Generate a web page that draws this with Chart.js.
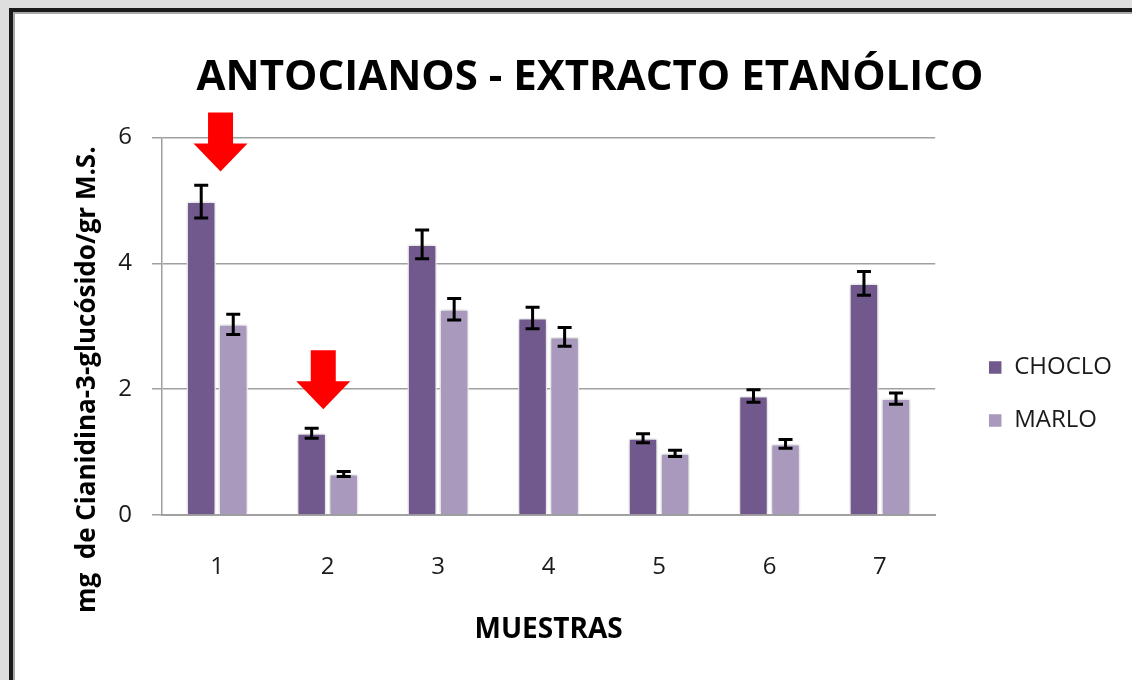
<!DOCTYPE html>
<html>
<head>
<meta charset="utf-8">
<script src="https://cdn.jsdelivr.net/npm/chart.js@4"></script>
<style>
  html, body { margin: 0; padding: 0; }
  body { width: 1132px; height: 680px; overflow: hidden; background: #dedede; position: relative; }
  .frame {
    position: absolute; left: 9px; top: 8px; width: 1200px; height: 800px;
    border: 4px solid #1a1a1a; box-shadow: inset 0 0 0 2px #a8a8a8; background: #fff;
  }
  .box { position: absolute; left: 58px; top: 14px; width: 1064px; height: 666px; }
</style>
</head>
<body>
<div class="frame"></div>
<div class="box"><canvas id="antocianos"></canvas></div>
<script>
const muestras = ['1', '2', '3', '4', '5', '6', '7'];
const choclo = [4.98, 1.30, 4.30, 3.13, 1.22, 1.89, 3.68];
const chocloErr = [0.26, 0.08, 0.23, 0.17, 0.07, 0.10, 0.19];
const marlo = [3.03, 0.65, 3.27, 2.83, 0.98, 1.13, 1.85];
const marloErr = [0.16, 0.04, 0.17, 0.15, 0.05, 0.07, 0.09];
const yTicks = [0, 2, 4, 6];
// flechas rojas: posición en categoría y valor de la punta
const flechaCat = [0.03, 0.96];
const flechaPunta = [5.46, 1.68];

const tituloY = 'mg  de Cianidina-3-glucósido/gr M.S.';
const fuente = "'Open Sans', sans-serif";

const sombraBarras = {
    id: 'sombraBarras',
    beforeDatasetsDraw(chart) {
        chart.ctx.save();
        chart.ctx.shadowColor = 'rgba(0,0,0,0.22)';
        chart.ctx.shadowBlur = 6;
    },
    afterDatasetsDraw(chart) {
        chart.ctx.restore();
    }
};

const barrasError = {
    id: 'barrasError',
    afterDatasetsDraw(chart) {
        const ctx = chart.ctx;
        const y = chart.scales.y;
        const errores = [chocloErr, marloErr];
        ctx.save();
        ctx.strokeStyle = '#000';
        ctx.lineWidth = 3;
        chart.data.datasets.forEach((ds, i) => {
            chart.getDatasetMeta(i).data.forEach((bar, j) => {
                const top = y.getPixelForValue(ds.data[j] + errores[i][j]);
                const bot = y.getPixelForValue(ds.data[j] - errores[i][j]);
                ctx.beginPath();
                ctx.moveTo(bar.x, top); ctx.lineTo(bar.x, bot);
                ctx.moveTo(bar.x - 7, top); ctx.lineTo(bar.x + 7, top);
                ctx.moveTo(bar.x - 7, bot); ctx.lineTo(bar.x + 7, bot);
                ctx.stroke();
            });
        });
        ctx.restore();
    }
};

// título del eje Y (sin el recorte a la altura del área que aplica Chart.js)
const ejeYTitulo = {
    id: 'ejeYTitulo',
    afterDraw(chart) {
        const ctx = chart.ctx;
        const a = chart.chartArea;
        ctx.save();
        ctx.translate(a.left - 67, a.bottom + 98);
        ctx.rotate(-Math.PI / 2);
        ctx.font = "bold 26px 'Open Sans', sans-serif";
        ctx.fillStyle = '#000';
        ctx.textAlign = 'left';
        ctx.textBaseline = 'alphabetic';
        ctx.fillText(tituloY, 0, 0);
        ctx.restore();
    }
};

const flechas = {
    id: 'flechas',
    afterDraw(chart) {
        const ctx = chart.ctx;
        ctx.save();
        ctx.fillStyle = '#ff0000';
        flechaCat.forEach((c, i) => {
            const x = chart.scales.x.getPixelForValue(c);
            const tip = chart.scales.y.getPixelForValue(flechaPunta[i]);
            ctx.beginPath();
            ctx.moveTo(x, tip);
            ctx.lineTo(x - 27, tip - 28);
            ctx.lineTo(x - 12.5, tip - 28);
            ctx.lineTo(x - 12.5, tip - 59);
            ctx.lineTo(x + 12.5, tip - 59);
            ctx.lineTo(x + 12.5, tip - 28);
            ctx.lineTo(x + 27, tip - 28);
            ctx.closePath();
            ctx.fill();
        });
        ctx.restore();
    }
};

new Chart(document.getElementById('antocianos').getContext('2d'), {
    type: 'bar',
    data: {
        labels: muestras,
        datasets: [
            {
                label: 'CHOCLO',
                data: choclo,
                backgroundColor: '#72598d',
                borderColor: '#ffffff',
                borderWidth: 1.5,
                categoryPercentage: 0.58,
                barPercentage: 0.92
            },
            {
                label: 'MARLO',
                data: marlo,
                backgroundColor: '#a899bd',
                borderColor: '#ffffff',
                borderWidth: 1.5,
                categoryPercentage: 0.58,
                barPercentage: 0.92
            }
        ]
    },
    options: {
        responsive: true,
        maintainAspectRatio: false,
        animation: false,
        layout: { padding: 0 },
        plugins: {
            title: {
                display: true,
                text: 'ANTOCIANOS - EXTRACTO ETANÓLICO',
                color: '#000',
                font: { family: fuente, size: 42, weight: 'bold' },
                padding: { top: 39, bottom: 34 }
            },
            legend: {
                position: 'right',
                title: { display: true, text: ' ', font: { size: 10 }, padding: 41 },
                labels: {
                    color: '#1a1a1a',
                    font: { family: fuente, size: 24 },
                    boxWidth: 14,
                    boxHeight: 14,
                    padding: 29
                }
            },
            tooltip: { enabled: false }
        },
        scales: {
            x: {
                grid: { display: false, drawTicks: false },
                border: { color: '#a0a0a0', width: 2 },
                ticks: { color: '#1a1a1a', font: { family: fuente, size: 24 }, padding: 38 },
                title: {
                    display: true,
                    text: 'MUESTRAS',
                    color: '#000',
                    font: { family: fuente, size: 28, weight: 'bold' },
                    padding: { top: 0, bottom: 33 }
                },
                afterFit: s => { s.height = 165; }
            },
            y: {
                min: 0,
                max: 6,
                afterBuildTicks: s => { s.ticks = yTicks.map(v => ({ value: v })); },
                grid: { color: '#a0a0a0', lineWidth: 1.5, tickLength: 10 },
                border: { color: '#a0a0a0', width: 1.5 },
                ticks: { color: '#1a1a1a', font: { family: fuente, size: 24 }, padding: 20 },
                afterFit: s => { s.width = 104; }
            },
            // eje vacío que separa la leyenda del área del gráfico
            hueco: {
                type: 'linear',
                position: 'right',
                grid: { display: false },
                border: { display: false },
                ticks: { display: false },
                afterFit: s => { s.width = 24; }
            }
        }
    },
    plugins: [sombraBarras, barrasError, ejeYTitulo, flechas]
});
</script>
</body>
</html>
